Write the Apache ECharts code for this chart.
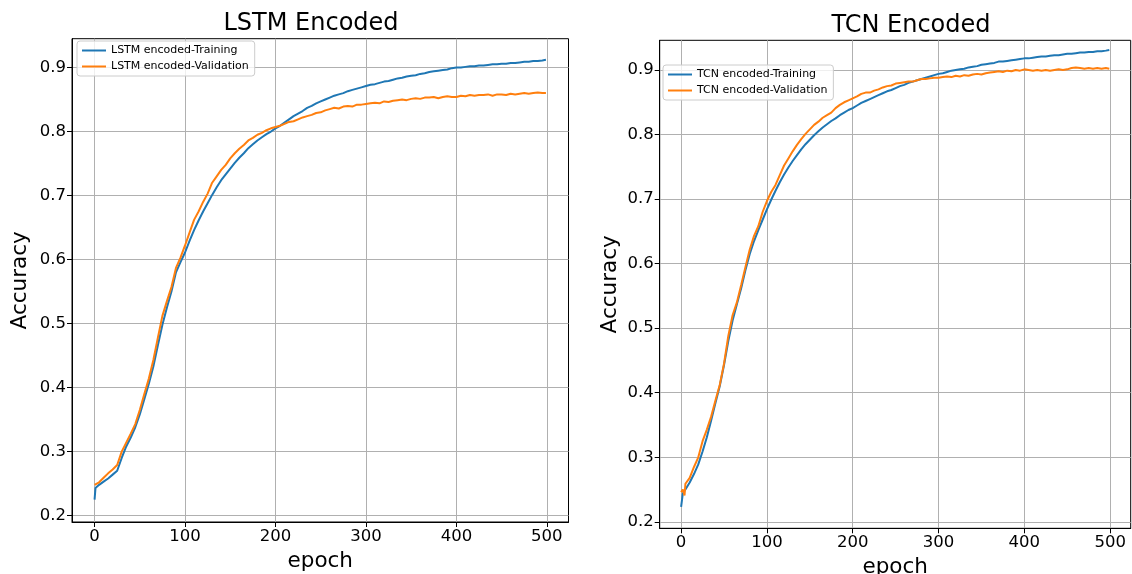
<!DOCTYPE html>
<html>
<head>
<meta charset="utf-8">
<script src="https://cdn.jsdelivr.net/npm/echarts@6/dist/echarts.min.js"></script>
<style>
html,body{margin:0;padding:0;background:#fff;}
#c{width:1132px;height:574px;}
</style>
</head>
<body>
<div id="c"></div>
<script>
// ---- data ----
const lstmEpochs = [0,1,5,10,15,20,25,30,35,40,45,50,55,60,65,70,75,80,85,90,95,100,105,110,115,120,125,130,135,140,145,150,155,160,165,170,175,180,185,190,195,200,205,210,215,220,225,230,235,240,245,250,255,260,265,270,275,280,285,290,295,300,305,310,315,320,325,330,335,340,345,350,355,360,365,370,375,380,385,390,395,400,405,410,415,420,425,430,435,440,445,450,455,460,465,470,475,480,485,490,495,499];
const lstmTrain = [0.225,0.243,0.248,0.253,0.258,0.264,0.270,0.290,0.308,0.322,0.338,0.358,0.382,0.406,0.433,0.466,0.498,0.525,0.550,0.580,0.596,0.611,0.629,0.646,0.661,0.675,0.688,0.701,0.713,0.724,0.733,0.742,0.751,0.759,0.766,0.774,0.780,0.786,0.791,0.796,0.800,0.805,0.809,0.814,0.819,0.824,0.828,0.832,0.837,0.840,0.844,0.847,0.850,0.853,0.856,0.858,0.860,0.863,0.865,0.867,0.869,0.871,0.873,0.874,0.876,0.878,0.879,0.881,0.883,0.884,0.886,0.887,0.888,0.890,0.891,0.893,0.894,0.895,0.896,0.897,0.899,0.900,0.900,0.901,0.902,0.902,0.903,0.903,0.904,0.905,0.905,0.906,0.906,0.907,0.907,0.908,0.909,0.909,0.910,0.910,0.911,0.912];
const lstmVal = [0.248,0.250,0.252,0.259,0.266,0.272,0.279,0.300,0.314,0.328,0.343,0.365,0.390,0.414,0.443,0.478,0.512,0.535,0.557,0.587,0.603,0.622,0.642,0.662,0.675,0.690,0.703,0.720,0.730,0.740,0.748,0.758,0.766,0.773,0.779,0.786,0.790,0.795,0.798,0.802,0.805,0.807,0.809,0.812,0.815,0.816,0.819,0.822,0.824,0.826,0.829,0.830,0.833,0.835,0.837,0.836,0.839,0.840,0.839,0.842,0.842,0.843,0.844,0.845,0.844,0.847,0.846,0.848,0.849,0.850,0.849,0.851,0.852,0.851,0.853,0.853,0.854,0.852,0.854,0.855,0.854,0.854,0.856,0.855,0.857,0.856,0.857,0.857,0.858,0.856,0.858,0.858,0.857,0.859,0.858,0.859,0.860,0.859,0.860,0.861,0.860,0.860];

const tcnEpochs = [0,2,4,5,10,15,20,25,30,35,40,45,50,55,60,65,70,75,80,85,90,95,100,105,110,115,120,125,130,135,140,145,150,155,160,165,170,175,180,185,190,195,200,205,210,215,220,225,230,235,240,245,250,255,260,265,270,275,280,285,290,295,300,305,310,315,320,325,330,335,340,345,350,355,360,365,370,375,380,385,390,395,400,405,410,415,420,425,430,435,440,445,450,455,460,465,470,475,480,485,490,495,499];
const tcnTrain = [0.223,0.244,0.247,0.250,0.261,0.274,0.289,0.309,0.331,0.357,0.384,0.410,0.443,0.480,0.512,0.537,0.562,0.590,0.615,0.635,0.652,0.668,0.684,0.699,0.713,0.726,0.738,0.749,0.759,0.768,0.777,0.785,0.792,0.799,0.805,0.811,0.816,0.821,0.825,0.830,0.834,0.838,0.841,0.845,0.849,0.852,0.855,0.858,0.861,0.864,0.867,0.869,0.872,0.875,0.877,0.880,0.882,0.884,0.886,0.888,0.890,0.892,0.894,0.895,0.897,0.899,0.900,0.901,0.902,0.904,0.905,0.906,0.908,0.909,0.910,0.911,0.913,0.913,0.914,0.915,0.916,0.917,0.918,0.918,0.919,0.920,0.921,0.921,0.922,0.923,0.923,0.924,0.925,0.925,0.926,0.927,0.927,0.928,0.928,0.929,0.929,0.930,0.931];
const tcnVal = [0.246,0.250,0.241,0.259,0.268,0.285,0.300,0.325,0.343,0.363,0.388,0.412,0.445,0.488,0.520,0.540,0.567,0.595,0.622,0.643,0.658,0.680,0.697,0.711,0.722,0.737,0.752,0.763,0.774,0.784,0.793,0.801,0.808,0.815,0.820,0.826,0.830,0.834,0.841,0.846,0.850,0.853,0.856,0.859,0.863,0.865,0.865,0.868,0.870,0.873,0.875,0.876,0.879,0.880,0.881,0.882,0.882,0.884,0.886,0.886,0.887,0.888,0.888,0.889,0.890,0.889,0.891,0.890,0.892,0.891,0.893,0.894,0.893,0.895,0.896,0.897,0.898,0.897,0.899,0.898,0.900,0.899,0.901,0.900,0.899,0.900,0.899,0.900,0.899,0.900,0.901,0.900,0.901,0.903,0.904,0.903,0.902,0.903,0.902,0.903,0.902,0.903,0.902];

const xTicks = [0,100,200,300,400,500];
const yTicks = [0.2,0.3,0.4,0.5,0.6,0.7,0.8,0.9];
const titles = ['LSTM Encoded','TCN Encoded'];
const names = ['LSTM encoded-Training','LSTM encoded-Validation','TCN encoded-Training','TCN encoded-Validation'];

function pairs(xs, ys){ return xs.map((x,i)=>[x, ys[i]]); }

const FONT = 'DejaVu Sans';
const BLUE = '#1f77b4', ORANGE = '#ff7f0e';

function xAx(gi){
  return {
    type:'value', gridIndex:gi, min:-24.95, max:523.95,
    name:'epoch', nameLocation:'middle', nameGap:28,
    nameTextStyle:{fontFamily:FONT,fontSize:21.5,color:'#000'},
    axisLine:{show:true,onZero:false,lineStyle:{color:'#000',width:1}},
    axisTick:{show:true,inside:false,length:5,customValues:xTicks,lineStyle:{color:'#000'}},
    axisLabel:{customValues:xTicks,fontFamily:FONT,fontSize:16.5,color:'#000',margin:6},
    splitLine:{show:true,lineStyle:{color:'#b0b0b0',width:1}}
  };
}
function yAx(gi,min,max,gap){
  return {
    type:'value', gridIndex:gi, min:min, max:max,
    name:'Accuracy', nameLocation:'middle', nameGap:gap, nameRotate:90,
    nameTextStyle:{fontFamily:FONT,fontSize:21.5,color:'#000'},
    axisLine:{show:true,onZero:false,lineStyle:{color:'#000',width:1}},
    axisTick:{show:true,inside:false,length:5,customValues:yTicks,lineStyle:{color:'#000'}},
    axisLabel:{customValues:yTicks,fontFamily:FONT,fontSize:16.5,color:'#000',margin:6,
      formatter:v=>v.toFixed(1)},
    splitLine:{show:true,lineStyle:{color:'#b0b0b0',width:1}}
  };
}
function line(name,data,color,xi){
  return {type:'line',name:name,xAxisIndex:xi,yAxisIndex:xi,data:data,showSymbol:false,
    lineStyle:{color:color,width:2},itemStyle:{color:color},animation:false,z:2};
}
function legend(list,left,top){
  return {data:list,orient:'vertical',left:left,top:top,icon:'rect',itemWidth:24,itemHeight:2,
    itemGap:5,padding:[4,6,4,5],backgroundColor:'rgba(255,255,255,0.8)',borderColor:'#cccccc',
    borderWidth:1,borderRadius:3,textStyle:{fontFamily:FONT,fontSize:11,color:'#000'}};
}

const chart = echarts.init(document.getElementById('c'),null,{renderer:'canvas'});
chart.setOption({
  backgroundColor:'#fff',
  animation:false,
  title:[
    {text:titles[0],left:306,top:7,textAlign:'center',textStyle:{fontFamily:FONT,fontSize:24,fontWeight:'normal',color:'#000'}},
    {text:titles[1],left:906,top:9,textAlign:'center',textStyle:{fontFamily:FONT,fontSize:24,fontWeight:'normal',color:'#000'}}
  ],
  grid:[
    {left:72,top:38.7,width:496.5,height:483.3,show:true,borderColor:'#000',borderWidth:1,backgroundColor:'transparent',outerBoundsMode:'none',containLabel:false},
    {left:659.7,top:40.3,width:471,height:488,show:true,borderColor:'#000',borderWidth:1,backgroundColor:'transparent',outerBoundsMode:'none',containLabel:false}
  ],
  xAxis:[xAx(0),xAx(1)],
  yAxis:[yAx(0,0.19,0.945,41),yAx(1,0.19,0.946,38)],
  legend:[legend([names[0],names[1]],77,41),legend([names[2],names[3]],663,65)],
  series:[
    line(names[0],pairs(lstmEpochs,lstmTrain),BLUE,0),
    line(names[1],pairs(lstmEpochs,lstmVal),ORANGE,0),
    line(names[2],pairs(tcnEpochs,tcnTrain),BLUE,1),
    line(names[3],pairs(tcnEpochs,tcnVal),ORANGE,1)
  ]
});
</script>
</body>
</html>
